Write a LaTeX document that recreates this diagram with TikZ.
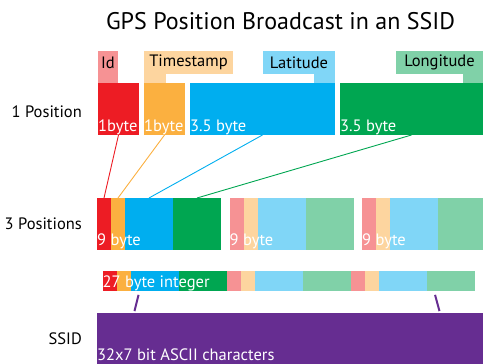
\documentclass[tikz,border=0pt]{standalone}
\usepackage{fontspec}
\setmainfont{PT Sans}
\usetikzlibrary{positioning}

\definecolor{idRed}{HTML}{ED1C24}
\definecolor{tsOrange}{HTML}{FBB040}
\definecolor{latBlue}{HTML}{00AEEF}
\definecolor{lonGreen}{HTML}{00A651}
\definecolor{idPale}{HTML}{F69294}
\definecolor{tsPale}{HTML}{FDD59F}
\definecolor{latPale}{HTML}{80D6F7}
\definecolor{lonPale}{HTML}{80D1A8}
\definecolor{ssidPurple}{HTML}{662D91}

\begin{document}
\begin{tikzpicture}[x=1pt, y=-1pt,
  seg/.style = {anchor=north west, inner sep=0pt, outer sep=0pt},
  tag/.style = {anchor=south west, inner sep=0pt, outer sep=0pt, minimum height=23pt, font=\fontsize{16.5}{18}\selectfont},
  bytes/.style = {anchor=base west, inner sep=0pt, text=white, font=\fontsize{16.5}{18}\selectfont},
  rowname/.style = {anchor=base east, inner sep=0pt, font=\fontsize{16.5}{18}\selectfont},
  link/.style = {line width=0.9pt},
  tick/.style = {line width=2pt, ssidPurple}]

\useasboundingbox (0,0) rectangle (483,364);

\node[anchor=base, font=\fontsize{24}{26}\selectfont] (title) at (280.5,29) {GPS Position Broadcast in an SSID};

% row names
\node[rowname] (one) at (82,117) {1 Position};
\node[rowname] (three) at (82,229) {3 Positions};
\node[rowname] (ssidname) at (82,344) {SSID};

% one position
\node[seg, fill=idRed, minimum width=41pt, minimum height=52pt] (idB) at (98,83) {};
\node[seg, fill=tsOrange, minimum width=41pt, minimum height=52pt, anchor=west] (tsB) [right=5pt of idB] {};
\node[seg, fill=latBlue, minimum width=145pt, minimum height=52pt, anchor=west] (latB) [right=5pt of tsB] {};
\node[seg, fill=lonGreen, minimum width=143pt, minimum height=52pt, anchor=west] (lonB) [right=5pt of latB] {};

\node[bytes] at ([yshift=4pt]idB.south west) {1byte};
\node[bytes] at ([yshift=4pt]tsB.south west) {1byte};
\node[bytes] at ([yshift=4pt]latB.south west) {3.5 byte};
\node[bytes] at ([yshift=4pt]lonB.south west) {3.5 byte};

% field names with their tabs
\node[tag, fill=idPale, minimum width=20pt] (idL) [above right=9pt and 0pt of idB.north west] {Id};
\node[tag, fill=tsPale, minimum width=89pt] (tsL) [above right=9pt and 0pt of tsB.north west] {Timestamp};
\node[tag, fill=latPale, minimum width=72pt, anchor=south east] (latL) [above left=9pt and 0pt of latB.north east] {Latitude};
\node[tag, fill=lonPale, minimum width=87pt, anchor=south east] (lonL) [above left=9pt and 0pt of lonB.north east] {Longitude};

\fill[idPale] (idL.south west) rectangle (idL.south east |- idB.north);
\fill[tsPale] (tsL.south west) rectangle ([xshift=22pt]tsB.north west);
\fill[latPale] ([xshift=-21pt]latL.south east) rectangle (latB.north east);
\fill[lonPale] ([xshift=-20pt]lonL.south east) rectangle (lonB.north east);

% three positions
\foreach \g/\ca/\cb/\cc/\cd in {0/idRed/tsOrange/latBlue/lonGreen, 1/idPale/tsPale/latPale/lonPale, 2/idPale/tsPale/latPale/lonPale} {
  \node[seg, fill=\ca, minimum width=14pt, minimum height=52pt] (p\g-id) at ({97+132.5*\g},198) {};
  \node[seg, fill=\cb, minimum width=14pt, minimum height=52pt, anchor=west] (p\g-ts) [right=0pt of p\g-id] {};
  \node[seg, fill=\cc, minimum width=48pt, minimum height=52pt, anchor=west] (p\g-lat) [right=0pt of p\g-ts] {};
  \node[seg, fill=\cd, minimum width=48pt, minimum height=52pt, anchor=west] (p\g-lon) [right=0pt of p\g-lat] {};
  \node[bytes] at ([yshift=5pt]p\g-id.south west) {9 byte};
}

\draw[link, idRed] (idB.south) -- (p0-id.north);
\draw[link, tsOrange] (tsB.south) -- (p0-ts.north);
\draw[link, latBlue] (latB.south) -- (p0-lat.north);
\draw[link, lonGreen] (lonB.south) -- (p0-lon.north);

% packed as one integer
\foreach \g/\ca/\cb/\cc/\cd in {0/idRed/tsOrange/latBlue/lonGreen, 1/idPale/tsPale/latPale/lonPale, 2/idPale/tsPale/latPale/lonPale} {
  \node[seg, fill=\ca, minimum width=14pt, minimum height=20pt] (q\g-id) at ({102.5+124*\g},271) {};
  \node[seg, fill=\cb, minimum width=14pt, minimum height=20pt, anchor=west] (q\g-ts) [right=0pt of q\g-id] {};
  \node[seg, fill=\cc, minimum width=48pt, minimum height=20pt, anchor=west] (q\g-lat) [right=0pt of q\g-ts] {};
  \node[seg, fill=\cd, minimum width=48pt, minimum height=20pt, anchor=west] (q\g-lon) [right=0pt of q\g-lat] {};
}
\node[bytes] at ([yshift=4pt]q0-id.south west) {27 byte integer};

% ssid
\node[seg, fill=ssidPurple, minimum width=386pt, minimum height=51pt] (ssid) at (97,313) {};
\node[bytes] at ([yshift=4pt]ssid.south west) {32x7 bit ASCII characters};

\draw[tick, shorten <=4pt, shorten >=2pt] ([xshift=9pt]q0-lat.south west) -- ([xshift=37pt]ssid.north west);
\draw[tick, shorten <=4pt, shorten >=2pt] ([xshift=7.5pt]q2-lon.south west) -- ([xshift=343pt]ssid.north west);

\end{tikzpicture}
\end{document}
